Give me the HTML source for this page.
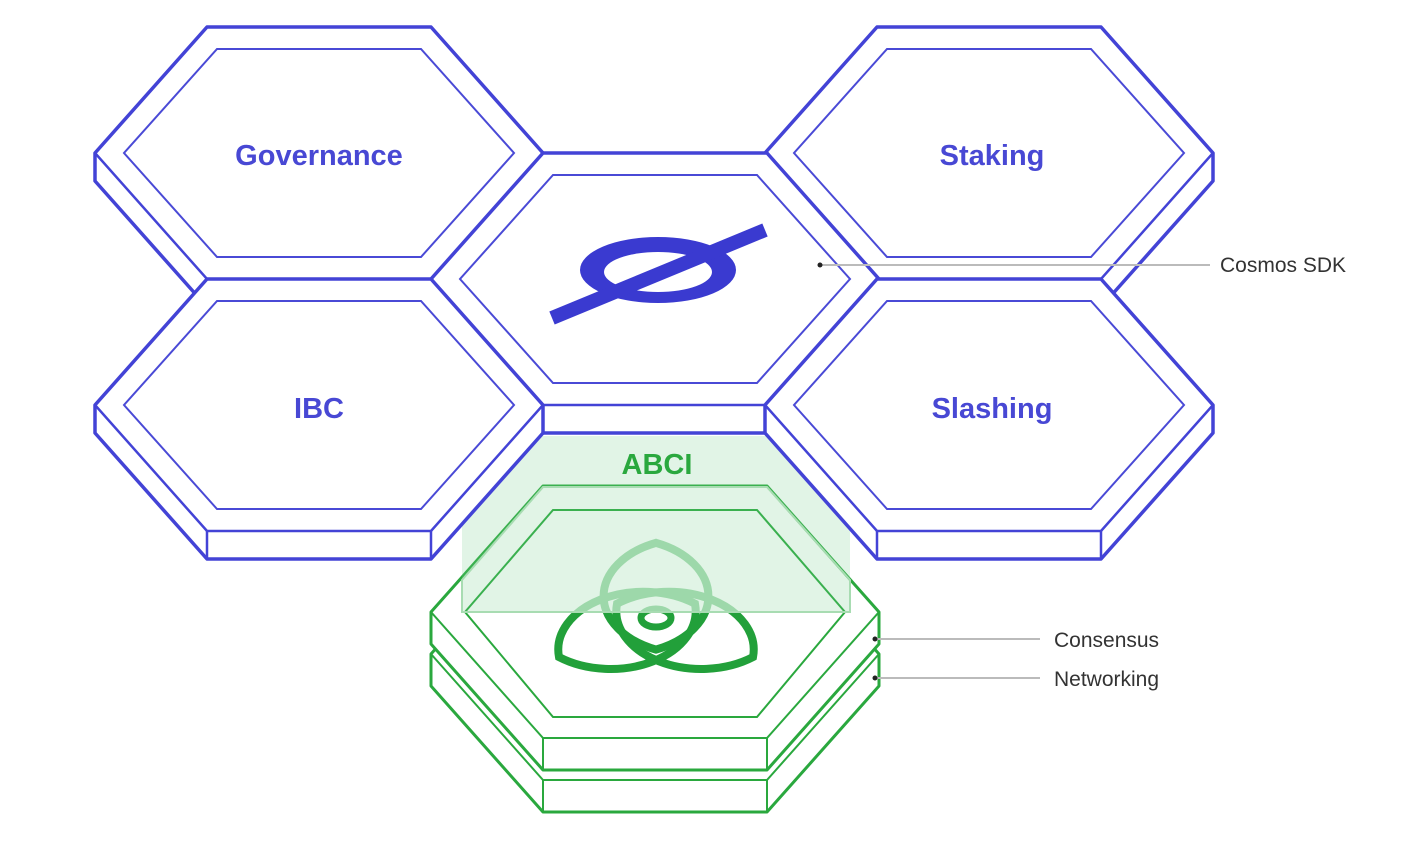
<!DOCTYPE html>
<html><head><meta charset="utf-8"><style>
html,body{margin:0;padding:0;background:#fff;}
svg{display:block;}
.t{font-family:"Liberation Sans",sans-serif;font-weight:bold;font-size:29px;fill:#4848d4;text-anchor:middle;}
.l{font-family:"Liberation Sans",sans-serif;font-size:21px;fill:#333;}
</style></head><body>
<svg width="1418" height="851" viewBox="0 0 1418 851" xmlns="http://www.w3.org/2000/svg">
<defs>
<g id="bhex">
  <polygon points="-112,-126 112,-126 224,0 224,28 112,154 -112,154 -224,28 -224,0" fill="#fff" stroke="#4343d6" stroke-width="3.5" stroke-linejoin="round"/>
  <polygon points="-112,-126 112,-126 224,0 112,126 -112,126 -224,0" fill="none" stroke="#4343d6" stroke-width="2.5"/>
  <line x1="-112" y1="126" x2="-112" y2="154" stroke="#4343d6" stroke-width="2.5"/>
  <line x1="112" y1="126" x2="112" y2="154" stroke="#4343d6" stroke-width="2.5"/>
  <polygon points="-102,-104 102,-104 195,0 102,104 -102,104 -195,0" fill="none" stroke="#4a4ad6" stroke-width="2"/>
</g>
<g id="ghex">
  <polygon points="-112,-126 112,-126 224,0 224,32 112,158 -112,158 -224,32 -224,0" fill="#fff" stroke="#2aa83e" stroke-width="3" stroke-linejoin="round"/>
  <polygon points="-112,-126 112,-126 224,0 112,126 -112,126 -224,0" fill="none" stroke="#2aa83e" stroke-width="2"/>
  <line x1="-112" y1="126" x2="-112" y2="158" stroke="#2aa83e" stroke-width="2"/>
  <line x1="112" y1="126" x2="112" y2="158" stroke="#2aa83e" stroke-width="2"/>
</g>
<g id="logo" fill="none" stroke-width="8">
  <g transform="translate(656,619) scale(1,0.68)">
    <path d="M0,-112 A85,85 0 0,1 0,45 A85,85 0 0,1 0,-112 Z" vector-effect="non-scaling-stroke"/>
    <path d="M0,-112 A85,85 0 0,1 0,45 A85,85 0 0,1 0,-112 Z" transform="rotate(120)" vector-effect="non-scaling-stroke"/>
    <path d="M0,-112 A85,85 0 0,1 0,45 A85,85 0 0,1 0,-112 Z" transform="rotate(-120)" vector-effect="non-scaling-stroke"/>
  </g>
  <ellipse cx="656" cy="618" rx="15" ry="9" stroke-width="7"/>
</g>
<clipPath id="lo"><rect x="0" y="612" width="1418" height="300"/></clipPath>
<clipPath id="hi"><rect x="0" y="0" width="1418" height="612"/></clipPath>
</defs>
<use href="#bhex" transform="translate(319,153)"/>
<use href="#bhex" transform="translate(989,153)"/>
<use href="#bhex" transform="translate(655,279)"/>
<!-- cosmos logo -->
<path fill-rule="evenodd" fill="#3a3ad0" d="M580,270 a78,33 0 1,0 156,0 a78,33 0 1,0 -156,0 Z M604,272 a54,20 0 1,0 108,0 a54,20 0 1,0 -108,0 Z"/>
<line x1="552" y1="318" x2="765" y2="230" stroke="#3a3ad0" stroke-width="14"/>
<!-- green stack -->
<use href="#ghex" transform="translate(655,654)"/>
<use href="#ghex" transform="translate(655,612)"/>
<polygon points="-102,-102 102,-102 190,0 102,105 -102,105 -190,0" transform="translate(655,612)" fill="none" stroke="#2aa83e" stroke-width="2"/>
<g clip-path="url(#lo)"><use href="#logo" stroke="#22a03a"/></g>
<g clip-path="url(#hi)"><use href="#logo" stroke="#a8dcb2"/></g>
<rect x="462" y="436" width="388" height="176" fill="rgba(120,205,140,0.22)"/>
<polygon points="543,487 767,487 850,580 850,612 462,612 462,580" fill="none" stroke="#a8dcb2" stroke-width="2"/>
<use href="#bhex" transform="translate(319,405)"/>
<use href="#bhex" transform="translate(989,405)"/>
<text class="t" x="319" y="165">Governance</text>
<text class="t" x="992" y="165">Staking</text>
<text class="t" x="319" y="418">IBC</text>
<text class="t" x="992" y="418">Slashing</text>
<text class="t" x="657" y="474" style="fill:#2aa83e">ABCI</text>
<line x1="820" y1="265" x2="1210" y2="265" stroke="#bbb" stroke-width="2"/>
<circle cx="820" cy="265" r="2.5" fill="#222"/>
<text class="l" x="1220" y="272">Cosmos SDK</text>
<line x1="875" y1="639" x2="1040" y2="639" stroke="#bbb" stroke-width="2"/>
<circle cx="875" cy="639" r="2.5" fill="#222"/>
<text class="l" x="1054" y="647">Consensus</text>
<line x1="875" y1="678" x2="1040" y2="678" stroke="#bbb" stroke-width="2"/>
<circle cx="875" cy="678" r="2.5" fill="#222"/>
<text class="l" x="1054" y="686">Networking</text>
</svg>
</body></html>
